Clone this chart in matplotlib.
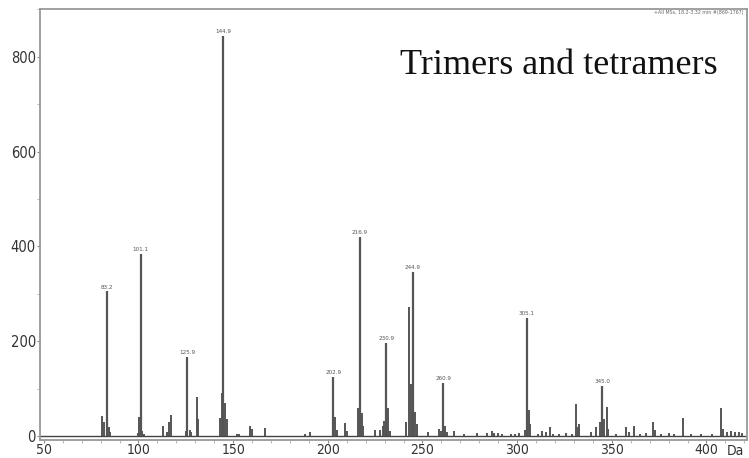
import matplotlib
matplotlib.use("Agg")
import matplotlib.pyplot as plt
from matplotlib.ticker import MultipleLocator

# ---- data ----
label_mz = [83.2, 101.1, 125.9, 144.9, 202.9, 216.9, 230.9, 244.9, 260.9, 305.1, 345.0]
label_int = [305, 384, 167, 844, 125, 420, 196, 346, 112, 249, 105]
label_txt = ["83.2", "101.1", "125.9", "144.9", "202.9", "216.9", "230.9", "244.9", "260.9", "305.1", "345.0"]

minor_mz = [81.0, 82.0, 84.3, 85.0, 99.5, 100.5, 102.1, 103.0, 113.2, 115.0, 116.3, 117.0,
            125.0, 127.0, 128.0, 130.9, 131.5, 142.9, 143.9, 145.9, 146.5, 152.0, 153.0,
            158.9, 160.0, 167.0, 188.0, 190.8, 203.8, 204.8, 208.9, 210.0, 215.9, 217.9,
            218.5, 224.9, 227.5, 228.9, 229.9, 231.9, 233.0, 241.5, 242.9, 243.9, 245.9,
            246.9, 253.0, 258.9, 259.9, 261.9, 263.0, 266.9, 272.0, 278.9, 284.0, 286.5,
            288.0, 290.0, 292.0, 297.0, 299.0, 301.0, 304.1, 306.1, 307.0, 311.0, 313.0,
            315.0, 317.5, 319.0, 322.0, 326.0, 329.0, 331.1, 332.1, 332.9, 339.0, 341.7,
            343.9, 345.9, 347.2, 348.0, 352.0, 357.5, 359.0, 361.8, 365.0, 368.0, 371.8,
            372.8, 376.0, 380.0, 383.0, 387.6, 392.0, 397.0, 403.0, 407.7, 408.7, 411.0,
            413.0, 415.0, 417.0, 419.0]
minor_int = [42, 30, 18, 8, 6, 40, 10, 5, 20, 9, 30, 44,
             10, 12, 8, 82, 35, 38, 90, 70, 35, 4, 5,
             22, 14, 17, 5, 9, 40, 12, 28, 10, 60, 48,
             20, 12, 12, 20, 32, 60, 10, 30, 272, 110, 50,
             25, 8, 14, 10, 20, 8, 10, 4, 6, 6, 10,
             7, 6, 4, 4, 5, 6, 12, 55, 25, 5, 10,
             8, 19, 5, 5, 6, 5, 68, 18, 25, 8, 19,
             30, 35, 61, 15, 5, 18, 8, 20, 5, 6, 30,
             12, 5, 6, 4, 38, 5, 5, 5, 59, 15, 8,
             10, 8, 9, 7]

title_text = "Trimers and tetramers"
info_text = "+All MSs, 18.2-3.32 min #(869-1767)"

plt.rcParams['font.family'] = ['DejaVu Sans']
plt.rcParams['font.stretch'] = 'condensed'

fig = plt.figure(figsize=(7.49, 4.58), dpi=100)
ax = fig.add_axes([40/749, 1-440/458, (747-40)/749, (440-9)/458])

ax.set_xlim(48, 421.4)
ax.set_ylim(-8.5, 901)

ax.axhline(0, color='#444444', lw=1.0, zorder=1)
ax.vlines(minor_mz, 0, minor_int, color='#555555', lw=1.4, zorder=2)
ax.vlines(label_mz, 0, label_int, color='#555555', lw=1.6, zorder=3)

for x, y, t in zip(label_mz, label_int, label_txt):
    ax.text(x, y + 4, t, ha='center', va='bottom', fontsize=4.5, color='#555555')

ax.text(0.509, 0.849, title_text, transform=ax.transAxes, fontsize=26,
        family=['Liberation Serif', 'DejaVu Serif'], color='#111111', va='baseline', ha='left')
ax.text(0.995, 0.997, info_text, transform=ax.transAxes, fontsize=3.8,
        color='#666666', ha='right', va='top')

ax.xaxis.set_minor_locator(MultipleLocator(10))
ax.yaxis.set_minor_locator(MultipleLocator(100))
ax.set_xticks([50, 100, 150, 200, 250, 300, 350, 400])
ax.set_yticks([0, 200, 400, 600, 800])

ax.tick_params(axis='both', which='major', length=2.5, width=0.8, color='#888888',
               labelsize=10.5, labelcolor='#333333', pad=0.5)
ax.tick_params(axis='x', which='major', labelsize=10, pad=0)
ax.tick_params(axis='both', which='minor', length=2, width=0.6, color='#aaaaaa')

for s in ax.spines.values():
    s.set_color('#999999')
    s.set_linewidth(1.3)

fig.text(735/749, 1-451/458, "Da", fontsize=10, color='#333333', ha='center', va='center')

fig.savefig("out.png", dpi=100, facecolor='white')
